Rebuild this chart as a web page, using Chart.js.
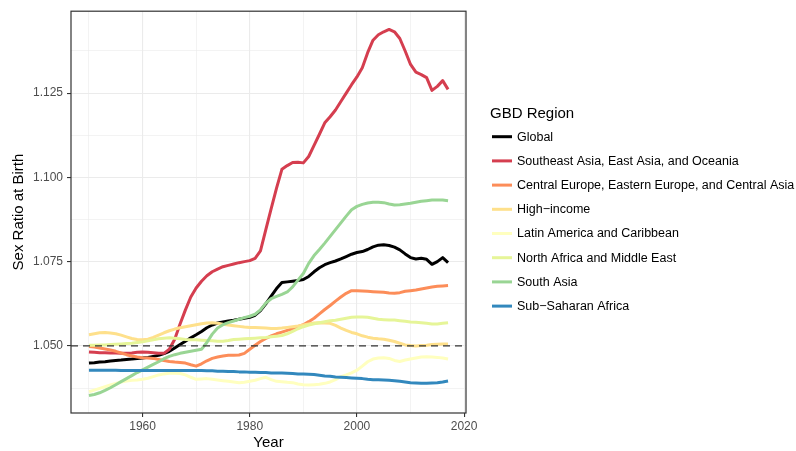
<!DOCTYPE html>
<html>
<head>
<meta charset="utf-8">
<title>Sex Ratio at Birth by GBD Region</title>
<script src="https://cdn.jsdelivr.net/npm/chart.js@4/dist/chart.umd.min.js"></script>
<style>
  html, body { margin: 0; padding: 0; background: #ffffff; }
  #wrap { width: 796px; height: 451px; position: relative; }
</style>
</head>
<body>
<div id="wrap"><canvas id="chart" width="796" height="451"></canvas></div>
<script>
// Years covered by the estimates
const years = [
  1950,1951,1952,1953,1954,1955,1956,1957,1958,1959,
  1960,1961,1962,1963,1964,1965,1966,1967,1968,1969,
  1970,1971,1972,1973,1974,1975,1976,1977,1978,1979,
  1980,1981,1982,1983,1984,1985,1986,1987,1988,1989,
  1990,1991,1992,1993,1994,1995,1996,1997,1998,1999,
  2000,2001,2002,2003,2004,2005,2006,2007,2008,2009,
  2010,2011,2012,2013,2014,2015,2016,2017
];

// Region names (legend order)
const regions = [
  "Global",
  "Southeast Asia, East Asia, and Oceania",
  "Central Europe, Eastern Europe, and Central Asia",
  "High\u2212income",
  "Latin America and Caribbean",
  "North Africa and Middle East",
  "South Asia",
  "Sub\u2212Saharan Africa"
];

// Sex ratio at birth (males per female), one value per year
const global = [
  1.0449,1.0450,1.0452,1.0453,1.0455,1.0457,1.0458,1.0460,1.0461,1.0463,
  1.0464,1.0466,1.0469,1.0472,1.0477,1.0484,1.0494,1.0504,1.0514,1.0524,
  1.0533,1.0543,1.0554,1.0562,1.0568,1.0571,1.0574,1.0576,1.0579,1.0582,
  1.0585,1.0591,1.0605,1.0625,1.0648,1.0670,1.0688,1.0690,1.0692,1.0694,
  1.0697,1.0706,1.0720,1.0732,1.0741,1.0747,1.0752,1.0758,1.0765,1.0772,
  1.0777,1.0780,1.0786,1.0794,1.0799,1.0800,1.0798,1.0793,1.0785,1.0773,
  1.0762,1.0758,1.0760,1.0757,1.0742,1.0750,1.0762,1.0747
];
const seAsia = [
  1.0482,1.0481,1.0480,1.0480,1.0479,1.0479,1.0478,1.0478,1.0479,1.0481,
  1.0482,1.0481,1.0480,1.0478,1.0478,1.0490,1.0520,1.0565,1.0607,1.0645,
  1.0672,1.0692,1.0708,1.0720,1.0728,1.0735,1.0739,1.0743,1.0747,1.0750,
  1.0753,1.0760,1.0782,1.0845,1.0907,1.0968,1.1024,1.1035,1.1044,1.1045,
  1.1043,1.1062,1.1095,1.1128,1.1162,1.1180,1.1200,1.1225,1.1250,1.1275,
  1.1298,1.1325,1.1370,1.1407,1.1423,1.1432,1.1439,1.1432,1.1412,1.1375,
  1.1335,1.1312,1.1305,1.1296,1.1258,1.1270,1.1287,1.1261
];
const centralEurope = [
  1.0498,1.0497,1.0494,1.0491,1.0488,1.0484,1.0479,1.0474,1.0470,1.0467,
  1.0465,1.0464,1.0463,1.0460,1.0457,1.0454,1.0452,1.0451,1.0449,1.0444,
  1.0440,1.0447,1.0456,1.0463,1.0467,1.0470,1.0472,1.0472,1.0473,1.0478,
  1.0490,1.0502,1.0513,1.0522,1.0530,1.0536,1.0541,1.0546,1.0551,1.0557,
  1.0563,1.0572,1.0582,1.0595,1.0608,1.0620,1.0633,1.0645,1.0656,1.0664,
  1.0664,1.0663,1.0662,1.0661,1.0660,1.0659,1.0657,1.0656,1.0658,1.0662,
  1.0664,1.0666,1.0669,1.0672,1.0675,1.0677,1.0678,1.0679
];
const highIncome = [
  1.0533,1.0536,1.0539,1.0540,1.0538,1.0536,1.0532,1.0527,1.0522,1.0519,
  1.0518,1.0520,1.0525,1.0532,1.0539,1.0545,1.0550,1.0554,1.0557,1.0560,
  1.0563,1.0566,1.0568,1.0569,1.0567,1.0564,1.0562,1.0560,1.0558,1.0556,
  1.0555,1.0555,1.0554,1.0553,1.0552,1.0552,1.0553,1.0555,1.0557,1.0559,
  1.0562,1.0565,1.0568,1.0569,1.0568,1.0567,1.0561,1.0553,1.0546,1.0540,
  1.0536,1.0530,1.0526,1.0523,1.0521,1.0520,1.0517,1.0513,1.0508,1.0503,
  1.0501,1.0500,1.0501,1.0502,1.0504,1.0505,1.0506,1.0506
];
const latinAmerica = [
  1.0364,1.0369,1.0374,1.0379,1.0384,1.0389,1.0393,1.0396,1.0398,1.0399,
  1.0401,1.0404,1.0409,1.0414,1.0417,1.0419,1.0419,1.0418,1.0414,1.0407,
  1.0401,1.0402,1.0403,1.0401,1.0399,1.0397,1.0395,1.0393,1.0391,1.0392,
  1.0395,1.0398,1.0403,1.0407,1.0400,1.0395,1.0394,1.0392,1.0391,1.0387,
  1.0385,1.0384,1.0385,1.0386,1.0389,1.0393,1.0400,1.0409,1.0414,1.0420,
  1.0428,1.0440,1.0453,1.0461,1.0464,1.0465,1.0463,1.0457,1.0454,1.0458,
  1.0461,1.0464,1.0467,1.0468,1.0467,1.0466,1.0464,1.0461
];
const northAfrica = [
  1.0502,1.0502,1.0503,1.0503,1.0504,1.0505,1.0506,1.0507,1.0508,1.0510,
  1.0512,1.0515,1.0518,1.0521,1.0523,1.0524,1.0523,1.0521,1.0519,1.0518,
  1.0518,1.0517,1.0516,1.0515,1.0514,1.0514,1.0516,1.0519,1.0520,1.0521,
  1.0522,1.0523,1.0524,1.0525,1.0527,1.0529,1.0531,1.0536,1.0543,1.0551,
  1.0557,1.0562,1.0566,1.0569,1.0572,1.0575,1.0576,1.0579,1.0582,1.0585,
  1.0586,1.0586,1.0585,1.0582,1.0579,1.0578,1.0577,1.0577,1.0575,1.0573,
  1.0571,1.0570,1.0569,1.0567,1.0565,1.0565,1.0567,1.0569
];
const southAsia = [
  1.0353,1.0356,1.0361,1.0368,1.0376,1.0385,1.0394,1.0403,1.0412,1.0421,
  1.0429,1.0437,1.0445,1.0453,1.0462,1.0469,1.0474,1.0478,1.0481,1.0484,
  1.0487,1.0490,1.0510,1.0535,1.0553,1.0563,1.0569,1.0574,1.0579,1.0584,
  1.0588,1.0594,1.0607,1.0627,1.0640,1.0647,1.0653,1.0660,1.0675,1.0695,
  1.0715,1.0745,1.0768,1.0786,1.0805,1.0825,1.0845,1.0865,1.0885,1.0904,
  1.0914,1.0920,1.0924,1.0926,1.0926,1.0925,1.0921,1.0918,1.0919,1.0921,
  1.0923,1.0926,1.0929,1.0931,1.0933,1.0933,1.0933,1.0931
];
const subSaharan = [
  1.0428,1.0428,1.0428,1.0428,1.0428,1.0428,1.0427,1.0427,1.0427,1.0427,
  1.0427,1.0427,1.0427,1.0427,1.0427,1.0427,1.0427,1.0427,1.0427,1.0427,
  1.0427,1.0427,1.0426,1.0426,1.0425,1.0425,1.0424,1.0424,1.0423,1.0423,
  1.0422,1.0422,1.0421,1.0421,1.0420,1.0420,1.0420,1.0419,1.0418,1.0417,
  1.0417,1.0416,1.0415,1.0413,1.0411,1.0410,1.0408,1.0407,1.0406,1.0405,
  1.0404,1.0403,1.0401,1.0400,1.0400,1.0399,1.0398,1.0397,1.0395,1.0393,
  1.0391,1.0390,1.0389,1.0389,1.0390,1.0391,1.0393,1.0396
];

// Axis ticks and the natural reference ratio
const xTicks = [1950, 1960, 1970, 1980, 1990, 2000, 2010, 2020];
const xTickLabels = [1960, 1980, 2000, 2020];
const yTicks = [1.0375, 1.050, 1.0625, 1.075, 1.0875, 1.100, 1.1125, 1.125, 1.1375];
const yTickLabels = [1.050, 1.075, 1.100, 1.125];
const referenceRatio = 1.05;

const seriesValues = [global, seAsia, centralEurope, highIncome, latinAmerica, northAfrica, southAsia, subSaharan];
const seriesColors = ["#000000", "#D53E4F", "#FC8D59", "#FEE08B", "#FFFFBF", "#E6F598", "#99D594", "#3288BD"];

const FONT = "'Liberation Sans', Arial, Helvetica, sans-serif";
const AREA = { left: 71, right: 466, top: 11, bottom: 413 };
const W = 796, H = 451;

const isLabelled = (list, v) => list.some(t => Math.abs(t - v) < 1e-6);

const datasets = regions.map((name, i) => ({
  label: name,
  data: years.map((yr, k) => ({ x: yr, y: seriesValues[i][k] })),
  borderColor: seriesColors[i],
  backgroundColor: seriesColors[i],
  borderWidth: 3,
  pointRadius: 0,
  tension: 0,
  fill: false,
  borderJoinStyle: 'round',
  borderCapStyle: 'butt',
  order: regions.length - i
}));

// Panel border, dashed reference line and the region legend
const decorations = {
  id: 'decorations',
  afterDatasetsDraw(chart) {
    const { ctx, chartArea: a, scales } = chart;
    const y = scales.y.getPixelForValue(referenceRatio);
    ctx.save();
    ctx.beginPath();
    ctx.rect(a.left, a.top, a.right - a.left, a.bottom - a.top);
    ctx.clip();
    ctx.strokeStyle = '#333333';
    ctx.lineWidth = 1.4;
    ctx.setLineDash([7, 5]);
    ctx.beginPath();
    ctx.moveTo(a.left, y);
    ctx.lineTo(a.right, y);
    ctx.stroke();
    ctx.restore();
  },
  afterDraw(chart) {
    const { ctx, chartArea: a } = chart;
    ctx.save();
    ctx.strokeStyle = '#333333';
    ctx.lineWidth = 1.2;
    ctx.strokeRect(a.left, a.top, a.right - a.left, a.bottom - a.top);

    // legend
    ctx.fillStyle = '#000000';
    ctx.font = `15px ${FONT}`;
    ctx.textAlign = 'left';
    ctx.textBaseline = 'middle';
    ctx.fillText('GBD Region', 490, 113.5);
    ctx.font = `12.5px ${FONT}`;
    regions.forEach((name, i) => {
      const yy = 136.7 + i * 24.2;
      ctx.strokeStyle = seriesColors[i];
      ctx.lineWidth = 3;
      ctx.beginPath();
      ctx.moveTo(492, yy);
      ctx.lineTo(512, yy);
      ctx.stroke();
      ctx.fillStyle = '#000000';
      ctx.fillText(name, 517, yy + 0.5);
    });
    ctx.restore();
  }
};

new Chart(document.getElementById('chart'), {
  type: 'line',
  data: { datasets },
  plugins: [decorations],
  options: {
    responsive: false,
    animation: false,
    devicePixelRatio: 1,
    layout: { padding: { left: 0, top: AREA.top, right: W - AREA.right, bottom: 0 } },
    plugins: { legend: { display: false }, tooltip: { enabled: false } },
    scales: {
      x: {
        type: 'linear',
        min: 1946.65,
        max: 2020.35,
        afterBuildTicks: s => { s.ticks = xTicks.map(v => ({ value: v })); },
        afterFit: s => { s.height = H - AREA.bottom; },
        border: { display: false },
        grid: {
          color: '#EBEBEB',
          lineWidth: c => isLabelled(xTickLabels, c.tick.value) ? 1.1 : 0.6,
          drawTicks: true,
          tickLength: 4,
          tickWidth: 1.1,
          tickColor: c => isLabelled(xTickLabels, c.tick.value) ? '#333333' : 'rgba(0,0,0,0)'
        },
        ticks: {
          autoSkip: false,
          maxRotation: 0,
          padding: 2,
          color: '#4D4D4D',
          font: { family: FONT, size: 12 },
          callback: v => isLabelled(xTickLabels, v) ? String(v) : ''
        },
        title: {
          display: true,
          text: 'Year',
          color: '#000000',
          font: { family: FONT, size: 15, lineHeight: 1.05 },
          padding: { top: 0, bottom: 0 }
        }
      },
      y: {
        type: 'linear',
        min: 1.0301,
        max: 1.1493,
        afterBuildTicks: s => { s.ticks = yTicks.map(v => ({ value: v })); },
        afterFit: s => { s.width = AREA.left; },
        border: { display: false },
        grid: {
          color: '#EBEBEB',
          lineWidth: c => isLabelled(yTickLabels, c.tick.value) ? 1.1 : 0.6,
          drawTicks: true,
          tickLength: 4,
          tickWidth: 1.1,
          tickColor: c => isLabelled(yTickLabels, c.tick.value) ? '#333333' : 'rgba(0,0,0,0)'
        },
        ticks: {
          autoSkip: false,
          padding: 4,
          color: '#4D4D4D',
          font: { family: FONT, size: 12 },
          callback: v => isLabelled(yTickLabels, v) ? v.toFixed(3) : ''
        },
        title: {
          display: true,
          text: 'Sex Ratio at Birth',
          color: '#000000',
          font: { family: FONT, size: 15 },
          padding: { top: 10, bottom: 0 }
        }
      }
    }
  }
});
</script>
</body>
</html>
